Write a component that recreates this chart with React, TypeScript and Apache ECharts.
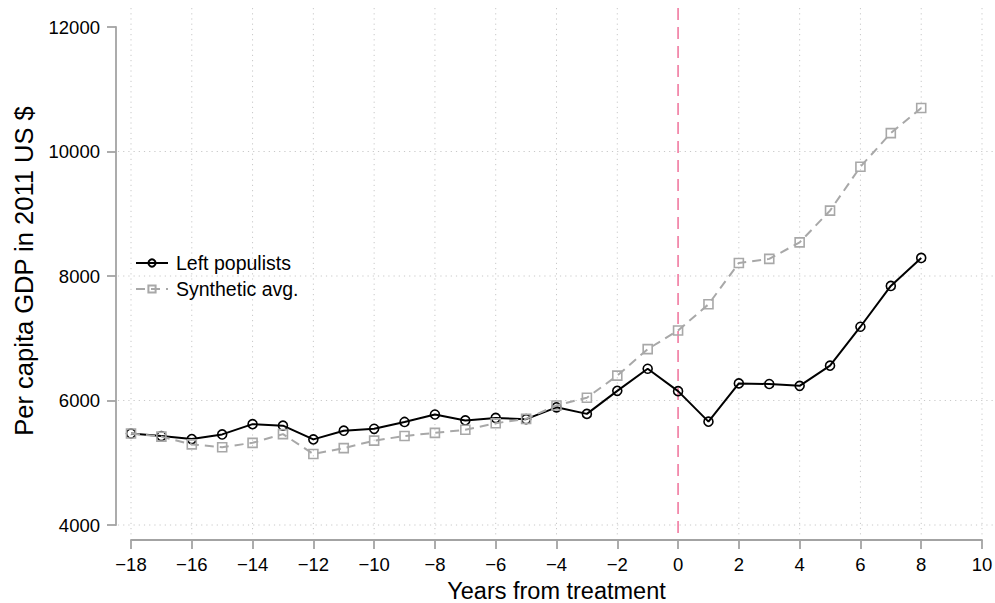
import React, { useEffect, useRef } from "react";
import * as echarts from "echarts";

// Years relative to the populist leader taking office
const years = [-18, -17, -16, -15, -14, -13, -12, -11, -10, -9, -8, -7, -6, -5, -4, -3, -2, -1, 0, 1, 2, 3, 4, 5, 6, 7, 8];

// Per capita GDP (2011 US $)
const leftPopulists = [5470, 5430, 5380, 5455, 5620, 5595, 5375, 5515, 5545, 5655, 5775, 5680, 5720, 5700, 5890, 5785, 6155, 6510, 6150, 5660, 6275, 6265, 6235, 6560, 7185, 7840, 8290];
const syntheticAvg = [5470, 5420, 5295, 5250, 5320, 5460, 5140, 5235, 5355, 5430, 5480, 5530, 5635, 5705, 5920, 6045, 6400, 6825, 7125, 7545, 8210, 8275, 8540, 9050, 9755, 10295, 10700];

const yGridValues = [4000, 6000, 8000, 10000];
const xGridValues = [-18, -16, -14, -12, -10, -8, -6, -4, -2, 2, 4, 6, 8, 10];
const treatmentYear = 0;

const FONT = "'Liberation Sans', Arial, Helvetica, sans-serif";

export default function App() {
  const ref = useRef<HTMLDivElement>(null);

  useEffect(() => {
    document.body.style.margin = "0";
    if (!ref.current) return;
    const chart = echarts.init(ref.current, undefined, { renderer: "svg" });

    const axisGray = "#a3a3a3";
    chart.setOption({
      animation: false,
      backgroundColor: "#fff",
      textStyle: { fontFamily: FONT },
      grid: { left: 131, right: 13, top: 27, bottom: 78, containLabel: false, outerBoundsMode: "none" },
      legend: {
        data: ["Left populists", "Synthetic avg."],
        orient: "vertical",
        left: 130,
        top: 248,
        itemWidth: 32,
        itemHeight: 9,
        itemGap: 6,
        textStyle: { fontSize: 19.5, color: "#000", fontFamily: FONT, padding: [0, 0, 0, 3] },
      },
      xAxis: {
        type: "value",
        min: -18,
        max: 10,
        interval: 2,
        offset: 15,
        name: "Years from treatment",
        nameLocation: "middle",
        nameGap: 37,
        nameTextStyle: { fontSize: 23.5, lineHeight: 24, color: "#000", fontFamily: FONT },
        axisLine: { show: true, onZero: false, lineStyle: { color: axisGray, width: 1.8 } },
        axisTick: { show: true, length: 9, lineStyle: { color: axisGray, width: 1.8 } },
        axisLabel: {
          fontSize: 18.5,
          color: "#000",
          margin: 15,
          fontFamily: FONT,
          formatter: (v: number) => String(v).replace("-", "\u2212"),
        },
        splitLine: { show: false },
      },
      yAxis: {
        type: "value",
        min: 4000,
        max: 12000,
        interval: 2000,
        offset: 15,
        name: "Per capita GDP in 2011 US $",
        nameLocation: "middle",
        nameGap: 79,
        nameTextStyle: { fontSize: 25.5, color: "#000", fontFamily: FONT, padding: [0, 0, 0, 10] },
        axisLine: { show: true, onZero: false, lineStyle: { color: axisGray, width: 1.8 } },
        axisTick: { show: true, length: 9, lineStyle: { color: axisGray, width: 1.8 } },
        axisLabel: {
          fontSize: 18.5,
          color: "#000",
          margin: 16,
          fontFamily: FONT,
          formatter: (v: number) => String(v),
        },
        splitLine: { show: false },
      },
      series: [
        {
          name: "Left populists",
          type: "line",
          data: years.map((y, i) => [y, leftPopulists[i]]),
          symbol: "circle",
          symbolSize: 9,
          showAllSymbol: true,
          z: 3,
          lineStyle: { color: "#000", width: 2 },
          itemStyle: { color: "rgba(255,255,255,0)", borderColor: "#000", borderWidth: 1.6 },
        },
        {
          name: "Synthetic avg.",
          type: "line",
          data: years.map((y, i) => [y, syntheticAvg[i]]),
          symbol: "rect",
          symbolSize: 9,
          showAllSymbol: true,
          z: 4,
          lineStyle: { color: "#a8a8a8", width: 2, type: [9, 6] },
          itemStyle: { color: "rgba(255,255,255,0)", borderColor: "#a8a8a8", borderWidth: 1.6 },
        },
      ],
    });

    // Background grid and treatment marker, spanning the full plot region
    const px = (x: number, y: number) => chart.convertToPixel({ gridIndex: 0 }, [x, y]) as number[];
    const xLo = -18.43, xHi = 10.43, yLo = 3807, yHi = 12305;
    const gridStyle = { stroke: "#c8c8c8", lineWidth: 1, lineDash: [1.2, 4] };
    const elements: any[] = [];
    yGridValues.forEach((v) => {
      const a = px(xLo, v);
      const b = px(xHi, v);
      elements.push({ type: "line", z: 0, silent: true, shape: { x1: a[0], y1: a[1], x2: b[0], y2: b[1] }, style: gridStyle });
    });
    xGridValues.forEach((v) => {
      const a = px(v, yHi);
      const b = px(v, yLo);
      elements.push({ type: "line", z: 0, silent: true, shape: { x1: a[0], y1: a[1], x2: b[0], y2: b[1] }, style: gridStyle });
    });
    const t1 = px(treatmentYear, yHi);
    const t2 = px(treatmentYear, 3760);
    elements.push({
      type: "line",
      z: 1,
      silent: true,
      shape: { x1: t1[0], y1: t1[1], x2: t2[0], y2: t2[1] },
      style: { stroke: "#f07aa0", lineWidth: 1.6, lineDash: [12, 7] },
    });
    chart.setOption({ graphic: elements });

    return () => chart.dispose();
  }, []);

  return <div ref={ref} style={{ width: 995, height: 603 }} />;
}
